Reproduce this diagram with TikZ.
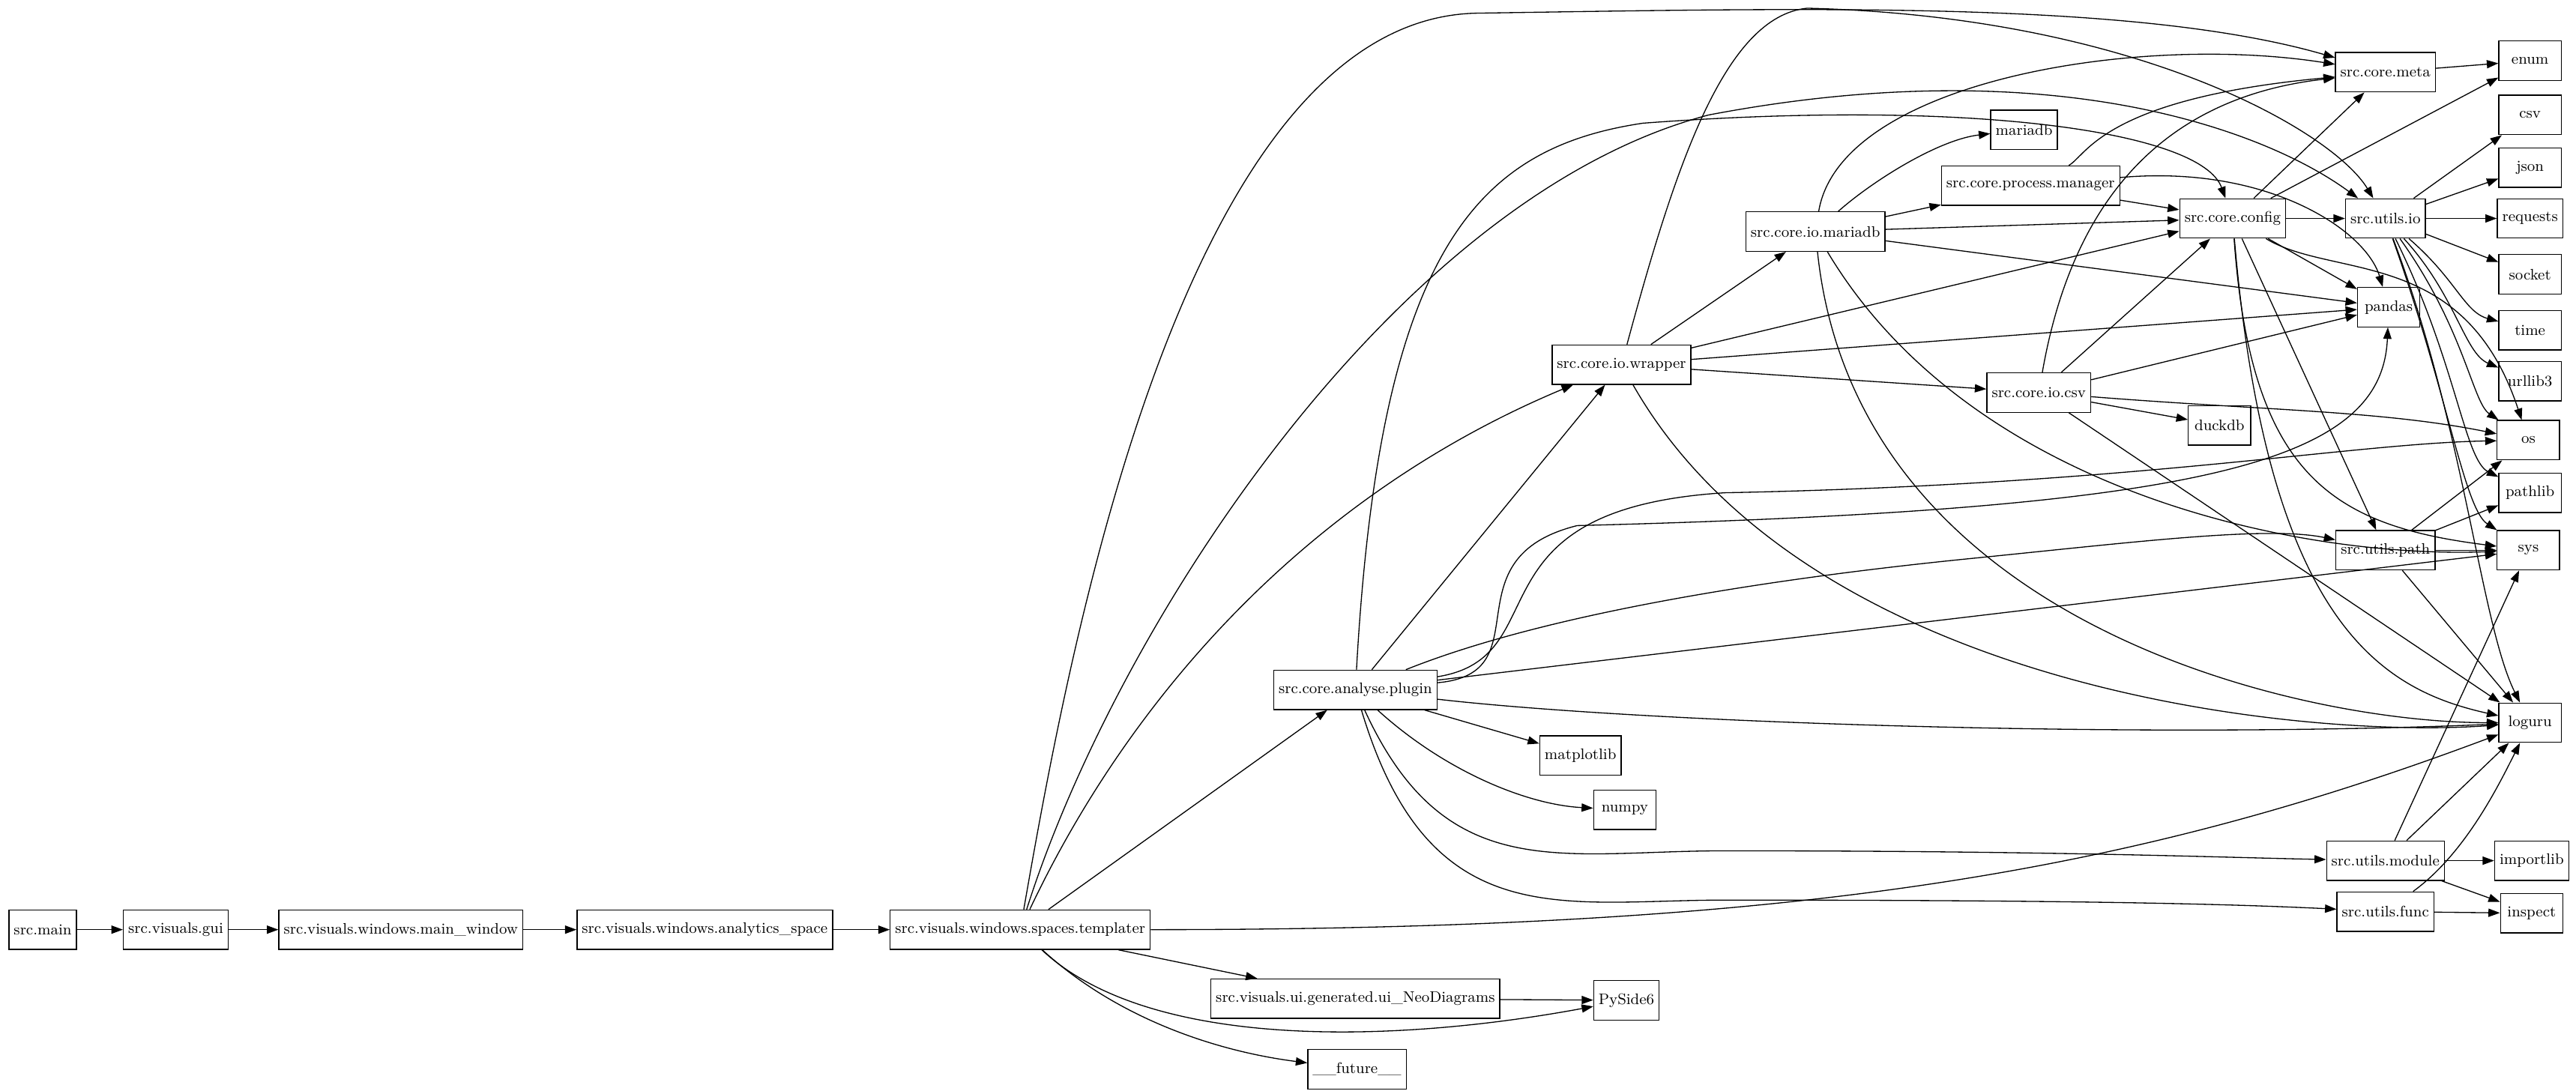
\documentclass[tikz,border=0pt]{standalone}
\usetikzlibrary{arrows.meta}
\begin{document}
\begin{tikzpicture}[x=1pt,y=-1pt,
  n/.style={draw,semithick,rectangle,minimum height=24pt,minimum width=38pt,inner sep=3pt,font=\fontsize{9.3}{10}\selectfont},
  e/.style={-{Triangle[length=7pt,width=5pt]},semithick}]
\useasboundingbox (0,0) rectangle (1568,664);
\node[n] (main) at (26,566) {src.main};
\node[n] (gui) at (107,566) {src.visuals.gui};
\node[n] (mw) at (244,566) {src.visuals.windows.main\_window};
\node[n] (as) at (429,566) {src.visuals.windows.analytics\_space};
\node[n] (tp) at (621,566) {src.visuals.windows.spaces.templater};
\node[n] (neo) at (825,608) {src.visuals.ui.generated.ui\_NeoDiagrams};
\node[n] (ps) at (990,609) {PySide6};
\node[n] (fut) at (826,651) {\_\_future\_\_};
\node[n] (pl) at (825,420) {src.core.analyse.plugin};
\node[n] (mpl) at (962,460) {matplotlib};
\node[n] (np) at (989,493) {numpy};
\node[n] (um) at (1452,524) {src.utils.module};
\node[n] (uf) at (1452,555) {src.utils.func};
\node[n] (il) at (1541,524) {importlib};
\node[n] (ins) at (1541,556) {inspect};
\node[n] (lg) at (1540,440) {loguru};
\node[n] (sys) at (1539,335) {sys};
\node[n] (pth) at (1540,300) {pathlib};
\node[n] (os) at (1539,268) {os};
\node[n] (ul) at (1540,232) {urllib3};
\node[n] (tm) at (1540,201) {time};
\node[n] (sk) at (1540,167) {socket};
\node[n] (rq) at (1540,133) {requests};
\node[n] (js) at (1540,102) {json};
\node[n] (cs) at (1540,70) {csv};
\node[n] (en) at (1540,37) {enum};
\node[n] (meta) at (1452,44) {src.core.meta};
\node[n] (uio) at (1452,133) {src.utils.io};
\node[n] (cfg) at (1359,133) {src.core.config};
\node[n] (pd) at (1454,187) {pandas};
\node[n] (up) at (1452,335) {src.utils.path};
\node[n] (dk) at (1351,259) {duckdb};
\node[n] (icsv) at (1241,239) {src.core.io.csv};
\node[n] (wr) at (987,222) {src.core.io.wrapper};
\node[n] (imd) at (1105,141) {src.core.io.mariadb};
\node[n] (mdb) at (1232,79) {mariadb};
\node[n] (pm) at (1236,113) {src.core.process.manager};

\draw[e] (main) -- (gui);
\draw[e] (gui) -- (mw);
\draw[e] (mw) -- (as);
\draw[e] (as) -- (tp);
% templater
\draw[e] (tp) -- (neo);
\draw[e] (tp) .. controls (700,640) and (850,635) .. (ps);
\draw[e] (tp) .. controls (680,620) and (740,640) .. (fut);
\draw[e] (tp) -- (pl);
\draw[e] (tp) .. controls (1100,566) and (1300,530) .. (lg);
\draw[e] (tp) .. controls (690,420) and (800,300) .. (wr);
\draw[e] (tp) .. controls (680,380) and (850,120) .. (1040,70) .. controls (1250,30) and (1380,80) .. (uio);
\draw[e] (tp) .. controls (650,400) and (720,10) .. (900,8) .. controls (1100,5) and (1300,0) .. (meta);
% plugin
\draw[e] (pl) -- (wr);
\draw[e] (pl) -- (mpl);
\draw[e] (pl) .. controls (880,470) and (930,490) .. (np);
\draw[e] (pl) .. controls (880,540) and (950,518) .. (1050,518) .. controls (1250,518) and (1350,522) .. (um);
\draw[e] (pl) .. controls (870,570) and (950,548) .. (1050,548) .. controls (1250,548) and (1350,550) .. (uf);
\draw[e] (pl) .. controls (1000,440) and (1300,450) .. (lg);
\draw[e] (pl) -- (sys);
\draw[e] (pl) .. controls (950,370) and (1100,350) .. (1200,340) .. controls (1300,330) and (1380,320) .. (up);
\draw[e] (pl) .. controls (950,400) and (890,310) .. (1050,300) .. controls (1300,295) and (1430,270) .. (os);
\draw[e] (pl) .. controls (940,410) and (880,340) .. (960,320) .. controls (1350,310) and (1450,280) .. (pd);
\draw[e] (pl) .. controls (840,150) and (900,90) .. (1000,75) .. controls (1200,60) and (1340,80) .. (cfg);
% wrapper
\draw[e] (wr) -- (imd);
\draw[e] (wr) -- (icsv);
\draw[e] (wr) -- (cfg);
\draw[e] (wr) -- (pd);
\draw[e] (wr) .. controls (1100,420) and (1400,450) .. (lg);
\draw[e] (wr) .. controls (1020,100) and (1050,10) .. (1100,5) .. controls (1300,10) and (1420,80) .. (uio);
% io.mariadb
\draw[e] (imd) -- (pm);
\draw[e] (imd) -- (cfg);
\draw[e] (imd) -- (pd);
\draw[e] (imd) .. controls (1130,380) and (1400,440) .. (lg);
\draw[e] (imd) .. controls (1200,300) and (1400,340) .. (sys);
\draw[e] (imd) .. controls (1140,110) and (1180,85) .. (mdb);
\draw[e] (imd) .. controls (1120,50) and (1300,20) .. (meta);
% process.manager
\draw[e] (pm) -- (cfg);
\draw[e] (pm) .. controls (1270,95) and (1280,60) .. (meta);
\draw[e] (pm) .. controls (1380,100) and (1440,140) .. (pd);
% io.csv
\draw[e] (icsv) -- (cfg);
\draw[e] (icsv) -- (pd);
\draw[e] (icsv) .. controls (1380,250) and (1450,250) .. (os);
\draw[e] (icsv) -- (dk);
\draw[e] (icsv) -- (lg);
\draw[e] (icsv) .. controls (1260,130) and (1310,60) .. (meta);
% config
\draw[e] (cfg) -- (uio);
\draw[e] (cfg) -- (meta);
\draw[e] (cfg) -- (en);
\draw[e] (cfg) -- (pd);
\draw[e] (cfg) -- (up);
\draw[e] (cfg) .. controls (1380,380) and (1450,420) .. (lg);
\draw[e] (cfg) .. controls (1370,290) and (1420,320) .. (sys);
\draw[e] (cfg) .. controls (1420,170) and (1500,150) .. (os);
% meta
\draw[e] (meta) -- (en);
% utils.io
\draw[e] (uio) -- (cs);
\draw[e] (uio) -- (js);
\draw[e] (uio) -- (rq);
\draw[e] (uio) -- (sk);
\draw[e] (uio) .. controls (1495,170) and (1500,190) .. (tm);
\draw[e] (uio) .. controls (1495,180) and (1500,215) .. (ul);
\draw[e] (uio) .. controls (1500,200) and (1505,245) .. (os);
\draw[e] (uio) .. controls (1495,220) and (1500,280) .. (pth);
\draw[e] (uio) .. controls (1490,240) and (1500,310) .. (sys);
\draw[e] (uio) .. controls (1500,260) and (1510,380) .. (lg);
% utils.path
\draw[e] (up) -- (os);
\draw[e] (up) -- (pth);
\draw[e] (up) -- (sys);
\draw[e] (up) -- (lg);
% module, func
\draw[e] (um) -- (il);
\draw[e] (um) -- (ins);
\draw[e] (um) -- (lg);
\draw[e] (um) -- (sys);
\draw[e] (uf) -- (ins);
\draw[e] (uf) .. controls (1500,520) and (1520,480) .. (lg);
\draw[e] (neo) -- (ps);
\end{tikzpicture}
\end{document}
